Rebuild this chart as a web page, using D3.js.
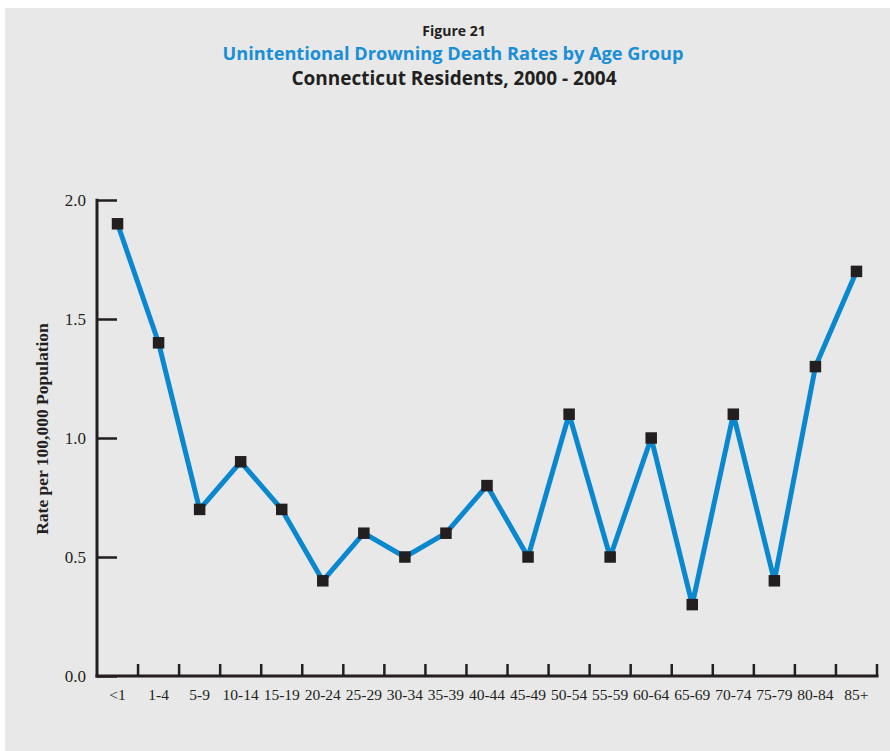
<!DOCTYPE html>
<html><head><meta charset="utf-8">
<script src="https://cdn.jsdelivr.net/npm/d3@7"></script>
<style>body{margin:0;background:#fff}svg{display:block}</style>
</head><body>
<script>
const categories = ["<1","1-4","5-9","10-14","15-19","20-24","25-29","30-34","35-39","40-44","45-49","50-54","55-59","60-64","65-69","70-74","75-79","80-84","85+"];
const rates = [1.9,1.4,0.7,0.9,0.7,0.4,0.6,0.5,0.6,0.8,0.5,1.1,0.5,1.0,0.3,1.1,0.4,1.3,1.7];
const yTicks = [0.0,0.5,1.0,1.5,2.0];
const titles = ["Figure 21","Unintentional Drowning Death Rates by Age Group","Connecticut Residents, 2000 - 2004"];

(function(){
const W=890,H=751;
const svg=d3.select("body").append("svg").attr("width",W).attr("height",H);
svg.append("rect").attr("x",5).attr("y",8).attr("width",W-5).attr("height",H-8).attr("fill","#e8e8e8");

const pL=97,pR=877,pT=200,pB=676;
const x=d3.scaleBand().domain(categories).range([pL,pR]);
const y=d3.scaleLinear().domain([0,2]).range([pB,pT]);

const sans="'Open Sans','DejaVu Sans',sans-serif";
const serif="'Liberation Serif','DejaVu Serif',serif";
svg.append("text").attr("x",454).attr("y",36).attr("text-anchor","middle").attr("font-family",sans).attr("font-weight",700).attr("font-size",14).attr("fill","#231f20").text(titles[0]);
svg.append("text").attr("x",453).attr("y",60).attr("text-anchor","middle").attr("font-family",sans).attr("font-weight",700).attr("font-size",18.2).attr("fill","#1a8fd6").text(titles[1]);
svg.append("text").attr("x",454).attr("y",85).attr("text-anchor","middle").attr("font-family",sans).attr("font-weight",700).attr("font-size",19).attr("fill","#231f20").text(titles[2]);

const ink="#231f20";
const yAxis=d3.axisRight(y).tickValues(yTicks).tickSize(20).tickFormat("");
const gy=svg.append("g").attr("transform",`translate(${pL},0)`).call(yAxis);
gy.select(".domain").remove();
gy.selectAll(".tick line").attr("stroke",ink).attr("stroke-width",2.5);
svg.append("line").attr("x1",pL).attr("x2",pL).attr("y1",pT-1.25).attr("y2",pB+1.5).attr("stroke",ink).attr("stroke-width",3);
svg.selectAll(".ylab").data(yTicks).join("text").attr("class","ylab")
  .attr("x",86).attr("y",d=>y(d)+6).attr("text-anchor","end")
  .attr("font-family",serif).attr("font-size",17).attr("fill",ink).text(d=>d.toFixed(1));

svg.append("line").attr("x1",pL-1.5).attr("x2",pR+1.5).attr("y1",pB).attr("y2",pB).attr("stroke",ink).attr("stroke-width",3);
const bounds=categories.map(c=>x(c)+x.bandwidth());
svg.selectAll(".xt").data(bounds).join("line").attr("class","xt")
  .attr("x1",d=>d).attr("x2",d=>d).attr("y1",pB).attr("y2",pB-12)
  .attr("stroke",ink).attr("stroke-width",2.5);
svg.selectAll(".xlab").data(categories).join("text").attr("class","xlab")
  .attr("x",d=>x(d)+x.bandwidth()/2).attr("y",700).attr("text-anchor","middle")
  .attr("font-family",serif).attr("font-size",15.5).attr("fill",ink).text(d=>d);

svg.append("text").attr("transform","translate(48,429) rotate(-90)").attr("text-anchor","middle")
  .attr("font-family",serif).attr("font-weight",700).attr("font-size",17.5).attr("fill",ink)
  .text("Rate per 100,000 Population");

const line=d3.line().x((d,i)=>x(categories[i])+x.bandwidth()/2).y(d=>y(d));
svg.append("path").datum(rates).attr("d",line).attr("fill","none").attr("stroke","#0a88cf").attr("stroke-width",5).attr("stroke-linejoin","round");
const s=11.5;
svg.selectAll(".pt").data(rates).join("rect").attr("class","pt")
  .attr("x",(d,i)=>x(categories[i])+x.bandwidth()/2-s/2).attr("y",d=>y(d)-s/2)
  .attr("width",s).attr("height",s).attr("fill",ink);
})();
</script>
</body></html>
